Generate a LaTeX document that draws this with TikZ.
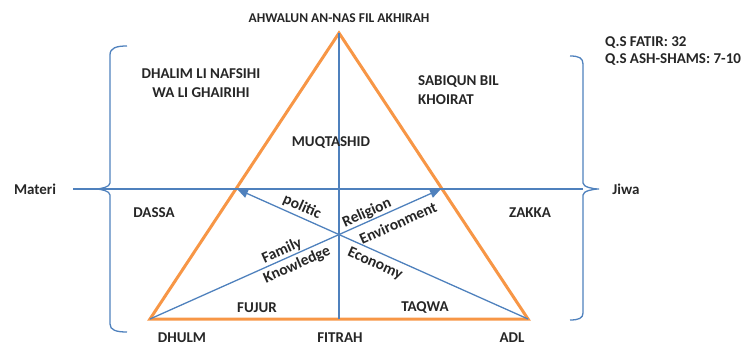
\documentclass[tikz,border=0pt]{standalone}
\usepackage{fontspec}
\setmainfont{Carlito}
\usetikzlibrary{arrows.meta}
\definecolor{tri}{RGB}{247,150,70}
\definecolor{ax}{RGB}{79,129,189}
\tikzset{
  lbl/.style={font=\fontsize{15}{17}\selectfont\bfseries, inner sep=0pt, text=black!85},
  rlbl/.style={font=\fontsize{15.5}{17}\selectfont\bfseries, inner sep=0pt, text=black!85},
  ttl/.style={font=\fontsize{13.5}{16}\selectfont\bfseries, inner sep=0pt, text=black!85},
  axis/.style={draw=ax, line width=1.3pt},
  arr/.style={draw=ax, line width=1.3pt, -{Triangle[length=11pt,width=9pt]}},
  brc/.style={draw=ax, line width=1.3pt},
  trig/.style={draw=tri, line width=3pt, line join=miter}
}
\begin{document}
\begin{tikzpicture}[x=1pt,y=-1pt]
\useasboundingbox (0,0) rectangle (746,345);
% key points
\coordinate (T) at (339,33);
\coordinate (L) at (150,319);
\coordinate (R) at (528,319);
\coordinate (B) at (339,319);
\coordinate (ML) at (237,189);
\coordinate (MR) at (441,189);
\coordinate (HL) at (73,189);
\coordinate (HR) at (583,189);
% triangle
\draw[trig] (T) -- (R) -- (L) -- cycle;
% axes
\draw[axis] (T) -- (B);
\draw[axis] (HL) -- (HR);
% arrows
\draw[arr] (R) -- (ML);
\draw[arr] (L) -- (MR);
% braces
\draw[brc] (127,46) .. controls (116,46) and (110,48) .. (110,55) -- (110,183)
  .. controls (110,187) and (101,189) .. (95,189)
  .. controls (101,189) and (110,191) .. (110,195) -- (110,324)
  .. controls (110,330) and (116,332) .. (127,332);
\draw[brc] (570,56) .. controls (579,56) and (583,58) .. (583,64) -- (583,183)
  .. controls (583,187) and (593,189) .. (599,189)
  .. controls (593,189) and (583,191) .. (583,195) -- (583,313)
  .. controls (583,318) and (579,320) .. (570,320);
% labels
\node[ttl] (top) at (339,18) {AHWALUN AN-NAS FIL AKHIRAH};
\node[lbl, align=center] (dhalim) at (201,83) {DHALIM LI NAFSIHI\\[2pt]WA LI GHAIRIHI};
\node[lbl, align=left, anchor=west] (sabiq) at (418,90) {SABIQUN BIL\\[2pt]KHOIRAT};
\node[lbl, align=left, anchor=west] (qs) at (605,51) {Q.S FATIR: 32\\Q.S ASH-SHAMS: 7-10};
\node[lbl] (muq) at (331,143) {MUQTASHID};
\node[lbl] (materi) at (35,189) {Materi};
\node[lbl] (jiwa) at (626,189) {Jiwa};
\node[lbl] (dassa) at (154,213) {DASSA};
\node[lbl] (zakka) at (530,213) {ZAKKA};
\node[lbl] (fujur) at (257,308) {FUJUR};
\node[lbl] (taqwa) at (425,308) {TAQWA};
\node[lbl] (dhulm) at (182,338) {DHULM};
\node[lbl] (fitrah) at (340,338) {FITRAH};
\node[lbl] (adl) at (512,338) {ADL};
\node[rlbl, rotate=-24] (politic) at (302,207) {politic};
\node[rlbl, rotate=-24] (economy) at (375,264) {Economy};
\node[rlbl, rotate=24] (religion) at (367,213) {Religion};
\node[rlbl, rotate=24] (environment) at (398,223) {Environment};
\node[rlbl, rotate=24] (family) at (282,251) {Family};
\node[rlbl, rotate=24] (knowledge) at (297,265) {Knowledge};
\end{tikzpicture}
\end{document}
